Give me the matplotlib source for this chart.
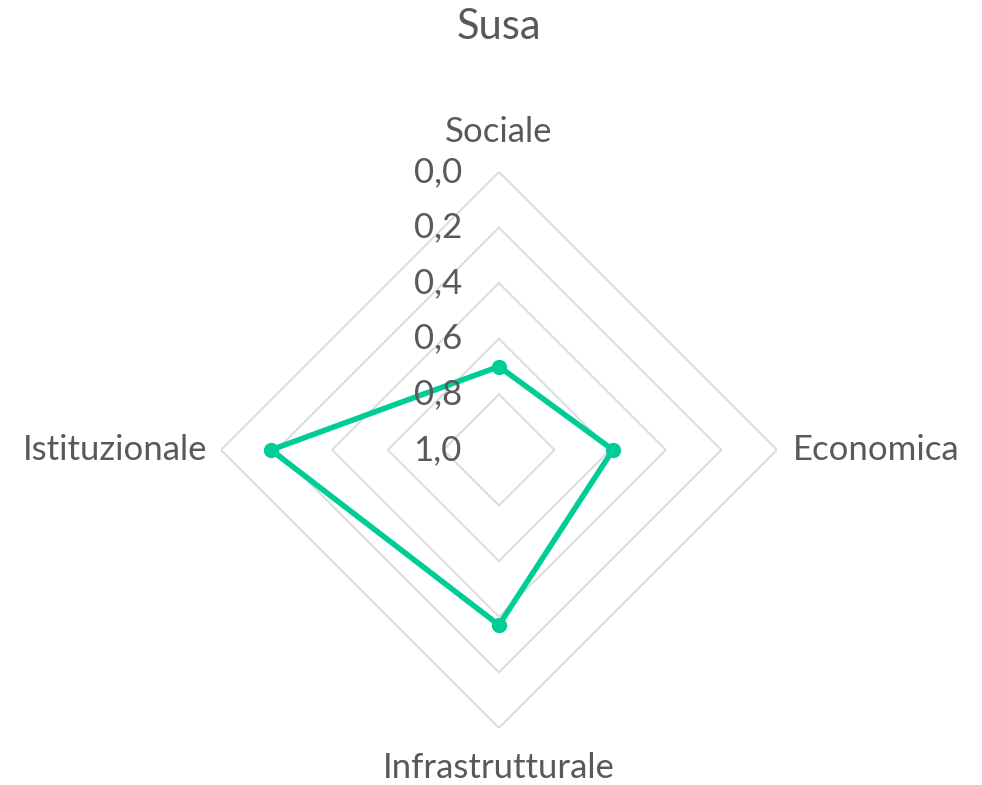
import numpy as np
import matplotlib
matplotlib.use("Agg")
import matplotlib.pyplot as plt

title = "Susa"
categories = ["Sociale", "Economica", "Infrastrutturale", "Istituzionale"]
values = [0.70, 0.59, 0.37, 0.18]
grid_levels = [0.0, 0.2, 0.4, 0.6, 0.8]
tick_values = [0.0, 0.2, 0.4, 0.6, 0.8, 1.0]
tick_labels = ["0,0", "0,2", "0,4", "0,6", "0,8", "1,0"]

plt.rcParams['font.family'] = ['Lato', 'DejaVu Sans']
TXT = "#595959"
LINE = "#00CC96"
GRID = "#D9D9D9"

fig = plt.figure(figsize=(9.82, 7.85), dpi=100)
ax = fig.add_axes([0.2250, 0.0727, 0.5662, 0.7083], projection='polar')
ax.set_theta_zero_location('N')
ax.set_theta_direction(-1)
ax.set_rlim(1.0, 0.0)

n = len(categories)
theta = np.arange(n) * 2 * np.pi / n
theta_c = np.append(theta, theta[0])

for g in grid_levels:
    ax.plot(theta_c, [g] * (n + 1), color=GRID, lw=1.3, zorder=1)

vals_c = values + values[:1]
ax.plot(theta_c, vals_c, color=LINE, lw=4, zorder=3, solid_joinstyle='round')
ax.plot(theta, values, 'o', color=LINE, ms=10, zorder=4)

ax.grid(False)
ax.spines['polar'].set_visible(False)
ax.set_xticks([])
ax.set_yticks([])
ax.patch.set_alpha(0)

fs = 25
for v, lab in zip(tick_values, tick_labels):
    ax.annotate(lab, xy=(0, v), xytext=(-37, 0), textcoords='offset pixels',
                ha='right', va='center', fontsize=fs, color=TXT)

offsets = [((0, 40), 'center', 'center'),
           ((16, 0), 'left', 'center'),
           ((0, -40), 'center', 'center'),
           ((-14, 0), 'right', 'center')]
for t, lab, (off, ha, va) in zip(theta, categories, offsets):
    ax.annotate(lab, xy=(t, 0.0), xytext=off, textcoords='offset pixels',
                ha=ha, va=va, fontsize=fs, color=TXT)

fig.text(0.508, 1 - 27 / 785, title, ha='center', va='center', fontsize=30, color=TXT)

fig.savefig("out.png", dpi=100)
